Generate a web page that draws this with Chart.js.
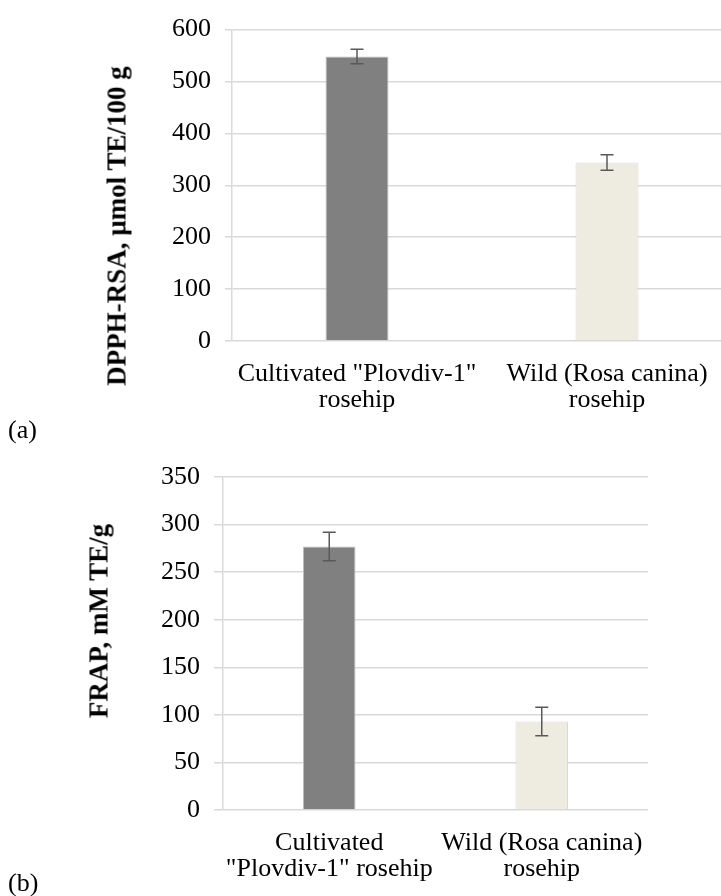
<!DOCTYPE html>
<html>
<head>
<meta charset="utf-8">
<script src="https://cdn.jsdelivr.net/npm/chart.js@4"></script>
<style>
  body { margin: 0; background: #fff; width: 721px; height: 896px; overflow: hidden; position: relative; }
  canvas { position: absolute; left: 0; }
  .ytitle { position: absolute; transform: translate(-50%, -50%) rotate(-90deg); white-space: nowrap;
            font: bold 27px "Liberation Serif", "Times New Roman", serif; color: #000; }
  .panel { position: absolute; left: 8px; font: 26px "Liberation Serif", "Times New Roman", serif; color: #000; }
</style>
</head>
<body>
<canvas id="dpph-chart" width="745" height="421" style="top:0"></canvas>
<canvas id="frap-chart" width="721" height="450" style="top:440px"></canvas>
<div class="ytitle" style="left:117px; top:226px">DPPH-RSA, µmol TE/100 g</div>
<div class="ytitle" style="left:99px; top:621px">FRAP, mM TE/g</div>
<div class="panel" style="top:415px">(a)</div>
<div class="panel" style="top:868px">(b)</div>
<script>
// Data
const dpphLabels = [['Cultivated "Plovdiv-1"', 'rosehip'], ['Wild (Rosa canina)', 'rosehip']];
const dpphValues = [548, 344];
const dpphErrors = [14, 15];
const dpphTicks = { min: 0, max: 600, step: 100 };

const frapLabels = [['Cultivated', '"Plovdiv-1" rosehip'], ['Wild (Rosa canina)', 'rosehip']];
const frapValues = [277, 93];
const frapErrors = [15, 15];
const frapTicks = { min: 0, max: 350, step: 50 };

const barColors = ['#808080', '#eeece1'];
const barBorders = ['#bdbdbd', '#d9d9d9'];
const serif = '"Liberation Serif", "Times New Roman", serif';

// error bars drawn through the y scale
const errorBarPlugin = {
  id: 'errorBars',
  afterDatasetsDraw(chart, args, opts) {
    const ctx = chart.ctx;
    const y = chart.scales.y;
    const meta = chart.getDatasetMeta(0);
    const values = chart.data.datasets[0].data;
    ctx.save();
    ctx.strokeStyle = '#595959';
    ctx.lineWidth = 1.5;
    meta.data.forEach((bar, i) => {
      const top = y.getPixelForValue(values[i] + opts.errors[i]);
      const bot = y.getPixelForValue(values[i] - opts.errors[i]);
      ctx.beginPath();
      ctx.moveTo(bar.x, top); ctx.lineTo(bar.x, bot);
      ctx.moveTo(bar.x - 6.5, top); ctx.lineTo(bar.x + 6.5, top);
      ctx.moveTo(bar.x - 6.5, bot); ctx.lineTo(bar.x + 6.5, bot);
      ctx.stroke();
    });
    ctx.restore();
  }
};

function makeChart(id, labels, values, errors, ticks, opt) {
  return new Chart(document.getElementById(id), {
    type: 'bar',
    data: {
      labels: labels,
      datasets: [{
        data: values,
        backgroundColor: barColors,
        borderColor: barBorders,
        borderWidth: 1,
        categoryPercentage: 1,
        barPercentage: opt.barPct,
      }]
    },
    options: {
      responsive: false,
      animation: false,
      layout: { padding: { top: opt.top, right: opt.right, bottom: 0, left: 0 } },
      scales: {
        x: {
          grid: { display: false, drawTicks: false },
          border: { display: false },
          ticks: {
            autoSkip: false, maxRotation: 0, padding: 20, color: '#000',
            font: { family: serif, size: 26, lineHeight: 1.0 }
          },
          afterFit(scale) { scale.height = 80; }
        },
        y: {
          min: ticks.min, max: ticks.max,
          grid: { color: '#d9d9d9', lineWidth: 1.5, tickLength: opt.tickLen },
          border: { color: '#d9d9d9', width: 1.5 },
          ticks: {
            stepSize: ticks.step, padding: 14, color: '#000',
            font: { family: serif, size: 26 }
          },
          afterFit(scale) { scale.width = opt.axisWidth; }
        }
      },
      plugins: {
        legend: { display: false },
        tooltip: { enabled: false },
        errorBars: { errors: errors }
      }
    },
    plugins: [errorBarPlugin]
  });
}

var dpphChart = makeChart('dpph-chart', dpphLabels, dpphValues, dpphErrors, dpphTicks,
  { top: 28, right: 13, axisWidth: 232, tickLen: 7, barPct: 0.252 });
var frapChart = makeChart('frap-chart', frapLabels, frapValues, frapErrors, frapTicks,
  { top: 37, right: 73, axisWidth: 223, tickLen: 9, barPct: 0.247 });
</script>
</body>
</html>
